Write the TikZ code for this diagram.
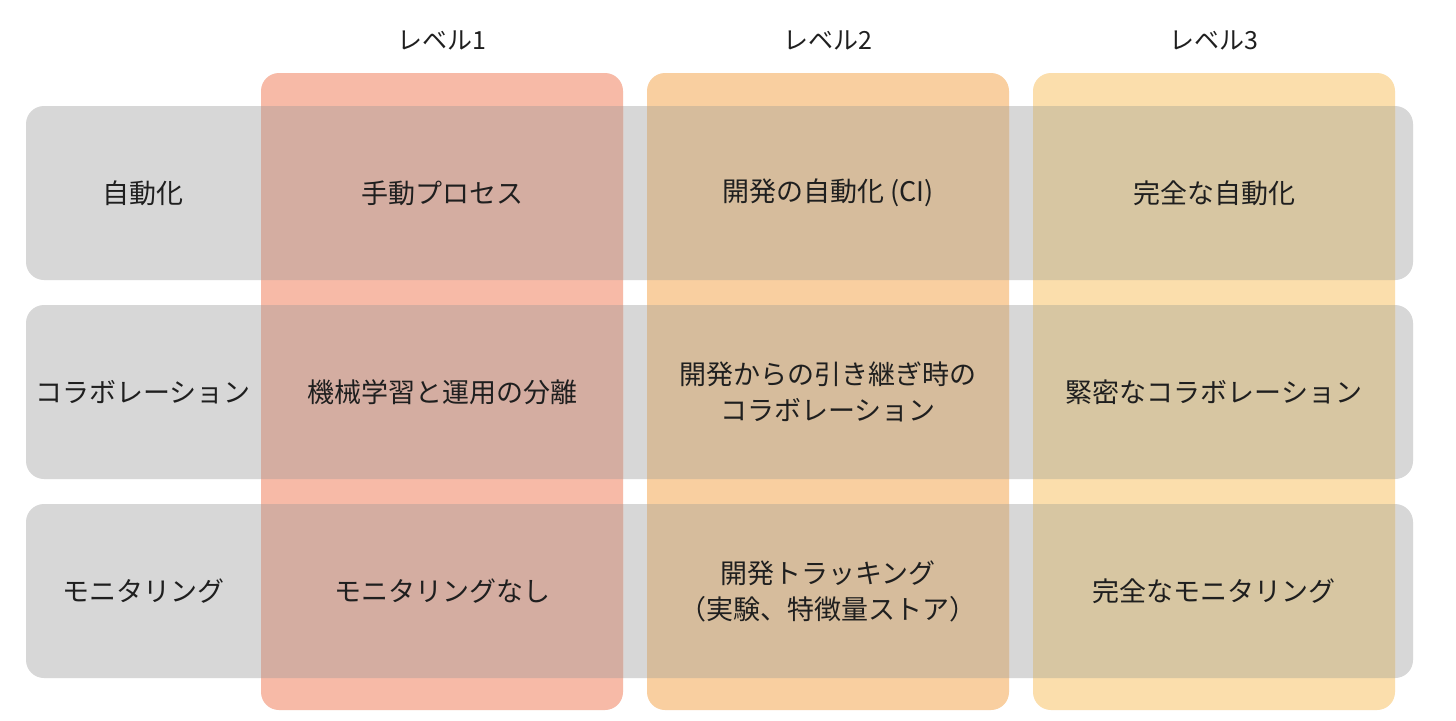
\documentclass[tikz,border=0pt]{standalone}
\usepackage{fontspec}
\setmainfont{Noto Sans CJK JP}
\definecolor{rowg}{RGB}{215,215,215}
\definecolor{c1}{RGB}{247,186,167}
\definecolor{c2}{RGB}{249,207,160}
\definecolor{c3}{RGB}{251,222,172}
\definecolor{o1}{RGB}{212,173,161}
\definecolor{o2}{RGB}{214,188,156}
\definecolor{o3}{RGB}{215,198,162}
\begin{document}
\begin{tikzpicture}[x=1pt,y=-1pt,
 txt/.style={font=\fontsize{27}{36}\selectfont,align=center,text=black!88},
 hdr/.style={font=\fontsize{25}{30}\selectfont,text=black!88}]
\useasboundingbox (0,0) rectangle (1456,720);
\fill[white] (0,0) rectangle (1456,720);
\def\rows{\fill[rounded corners=18] (26,106) rectangle (1413,280);
 \fill[rounded corners=18] (26,305) rectangle (1413,479);
 \fill[rounded corners=18] (26,504) rectangle (1413,678);}
\begin{scope}[rowg]\rows\end{scope}
\foreach \x/\c/\o in {261/c1/o1,647/c2/o2,1033/c3/o3}{
 \fill[\c,rounded corners=18] (\x,73) rectangle ++(362,637);
 \begin{scope}\clip[rounded corners=18] (\x,73) rectangle ++(362,637);
  \begin{scope}[\o]\rows\end{scope}\end{scope}}
\node[hdr] (h1) at (442,40) {レベル1};
\node[hdr] (h2) at (828,40) {レベル2};
\node[hdr] (h3) at (1214,40) {レベル3};
\node[txt] (r1) at (143,193) {自動化};
\node[txt] (r2) at (143,392) {コラボレーション};
\node[txt] (r3) at (143,591) {モニタリング};
\node[txt] (a1) at (442,193) {手動プロセス};
\node[txt] (a2) at (828,193) {開発の自動化 (CI)};
\node[txt] (a3) at (1214,193) {完全な自動化};
\node[txt] (b1) at (442,392) {機械学習と運用の分離};
\node[txt] (b2) at (828,392) {開発からの引き継ぎ時の\\コラボレーション};
\node[txt] (b3) at (1214,392) {緊密なコラボレーション};
\node[txt] (m1) at (442,591) {モニタリングなし};
\node[txt] (m2) at (828,591) {開発トラッキング\\（実験、特徴量ストア）};
\node[txt] (m3) at (1214,591) {完全なモニタリング};
\end{tikzpicture}
\end{document}
